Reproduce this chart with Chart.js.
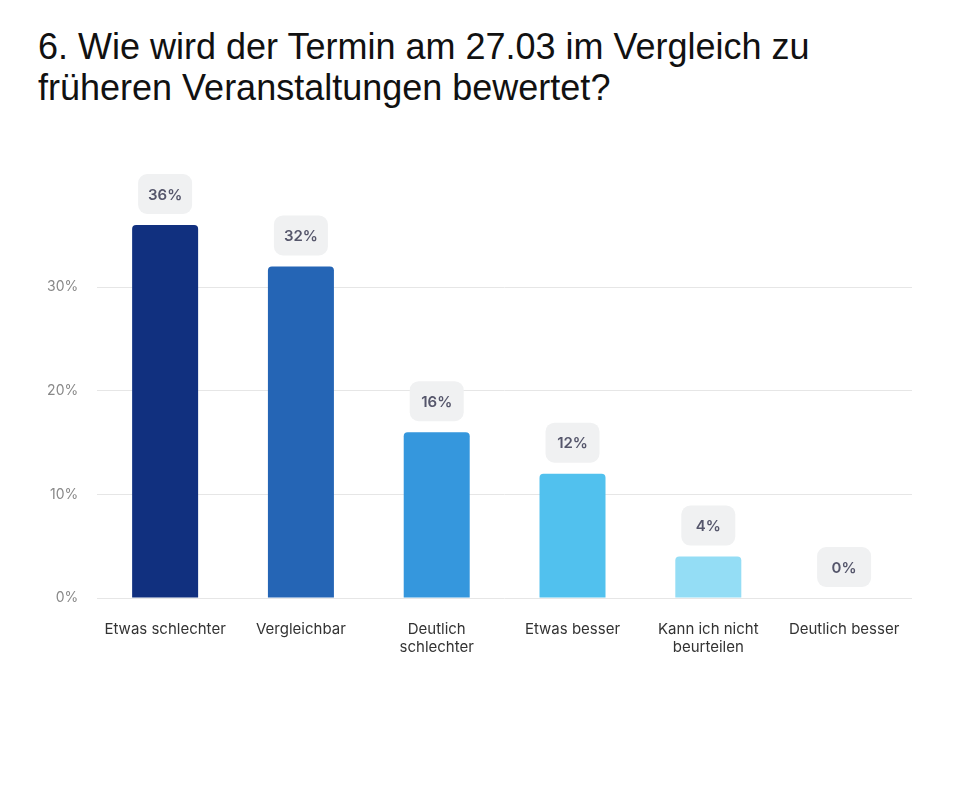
<!DOCTYPE html>
<html><head><meta charset="utf-8">
<script src="https://cdn.jsdelivr.net/npm/chart.js@4"></script>
<style>
html,body{margin:0;padding:0;background:#fff;width:966px;height:797px;overflow:hidden;}
#title{position:absolute;left:38px;top:26px;font-family:"Liberation Sans",Arial,sans-serif;font-size:36px;line-height:41px;color:#111;}
#wrap{position:absolute;left:0;top:130px;width:966px;height:560px;}
</style></head><body>
<div id="title">6. Wie wird der Termin am 27.03 im Vergleich zu<br>früheren Veranstaltungen bewertet?</div>
<div id="wrap"><canvas id="c"></canvas></div>
<script>
const categories = [["Etwas schlechter"], ["Vergleichbar"], ["Deutlich","schlechter"], ["Etwas besser"], ["Kann ich nicht","beurteilen"], ["Deutlich besser"]];
const values = [36, 32, 16, 12, 4, 0];
const barColors = ["#11307f", "#2565b5", "#3597dd", "#51c1ee", "#94ddf5", "#c8eefa"];
const yTicks = [0, 10, 20, 30];

const labelPlugin = {
  id: 'boxLabels',
  afterDatasetsDraw(chart) {
    const ctx = chart.ctx;
    const meta = chart.getDatasetMeta(0);
    ctx.save();
    ctx.font = '600 15px Inter';
    ctx.textAlign = 'center';
    ctx.textBaseline = 'middle';
    meta.data.forEach((bar, i) => {
      const txt = values[i] + '%';
      const w = 54, h = 40, r = 9;
      const x = bar.x - w / 2;
      const y = bar.y - 11 - h;
      ctx.fillStyle = '#f0f1f2';
      ctx.beginPath();
      ctx.roundRect(x, y, w, h, r);
      ctx.fill();
      ctx.fillStyle = '#55566b';
      ctx.fillText(txt, bar.x, y + h / 2 + 1);
    });
    ctx.restore();
  }
};

new Chart(document.getElementById('c'), {
  type: 'bar',
  data: {
    labels: categories,
    datasets: [{
      data: values,
      backgroundColor: barColors,
      borderRadius: {topLeft: 4, topRight: 4},
      borderSkipped: 'bottom',
      barPercentage: 0.6,
      categoryPercentage: 0.81
    }]
  },
  options: {
    responsive: true,
    maintainAspectRatio: false,
    animation: false,
    layout: {padding: {top: 95, left: 28, right: 54, bottom: 20}},
    plugins: {legend: {display: false}, tooltip: {enabled: false}},
    scales: {
      x: {
        grid: {display: false},
        border: {display: false},
        ticks: {font: {family: 'Inter', size: 15}, color: '#333', padding: 14, maxRotation: 0}
      },
      y: {
        min: 0, max: 36,
        afterBuildTicks(axis) { axis.ticks = yTicks.map(v => ({value: v})); },
        grid: {color: '#e6e6e6', drawTicks: false},
        border: {display: false},
        ticks: {font: {family: 'Inter', size: 14}, color: '#888', padding: 19, callback: v => v + '%'}
      }
    }
  },
  plugins: [labelPlugin]
});
</script>
</body></html>
